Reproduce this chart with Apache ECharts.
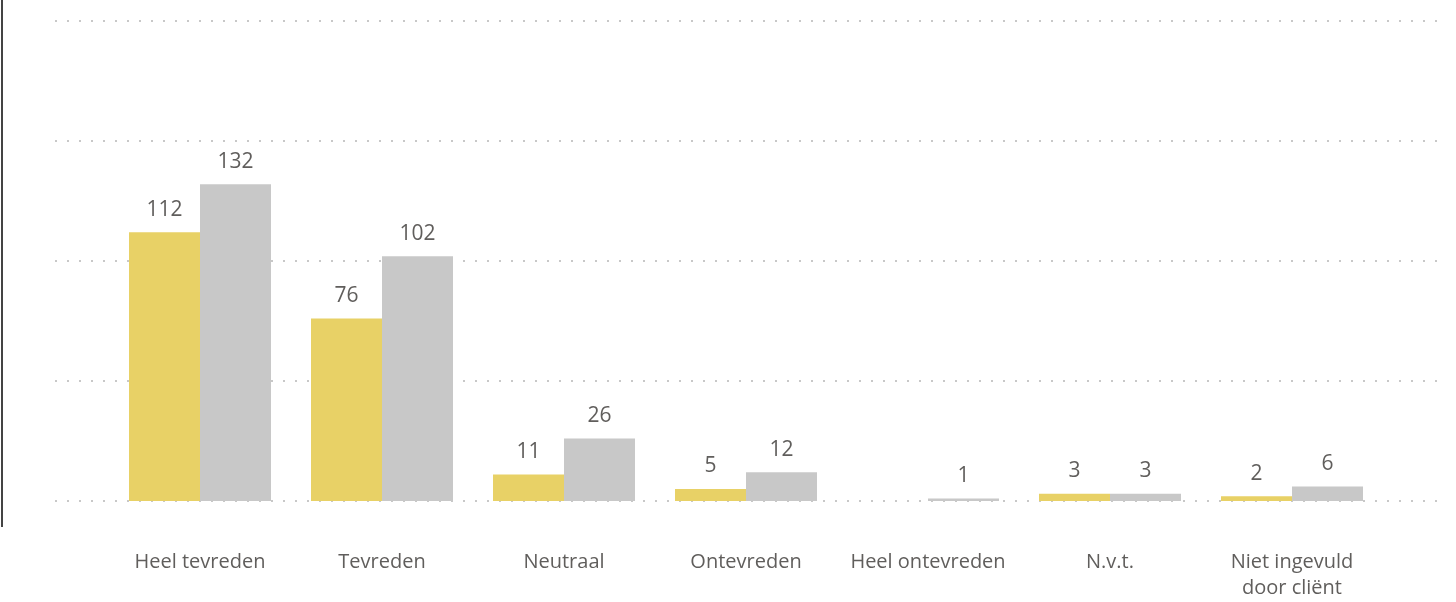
<!DOCTYPE html>
<html>
<head>
<meta charset="utf-8">
<script src="https://cdn.jsdelivr.net/npm/echarts@6/dist/echarts.min.js"></script>
<style>
html, body { margin: 0; padding: 0; background: #fff; }
#main { width: 1456px; height: 602px; }
</style>
</head>
<body>
<div id="main"></div>
<script>
// categorieen en aantallen
var categories = ['Heel tevreden', 'Tevreden', 'Neutraal', 'Ontevreden', 'Heel ontevreden', 'N.v.t.', 'Niet ingevuld door cliënt'];
var serieGeel = [112, 76, 11, 5, 0, 3, 2];
var serieGrijs = [132, 102, 26, 12, 1, 3, 6];
var yTicks = [0, 50, 100, 150, 200];

var myChart = echarts.init(document.getElementById('main'));

var labelStyle = {
    show: true,
    position: 'top',
    distance: 12,
    color: '#605e5c',
    fontSize: 21,
    fontFamily: 'Open Sans',
    formatter: function (p) { return p.value === 0 ? '' : p.value; }
};

var option = {
    animation: false,
    grid: [
        // grid met de staven
        { left: 109, right: 73, top: 21, bottom: 101 },
        // bredere grid alleen voor de stippellijnen
        { left: 55, right: 18, top: 21, bottom: 101 }
    ],
    xAxis: [
        {
            type: 'category',
            gridIndex: 0,
            data: categories,
            axisLine: { show: false },
            axisTick: { show: false },
            axisLabel: {
                color: '#605e5c',
                fontSize: 20,
                fontFamily: 'Open Sans',
                lineHeight: 26,
                margin: 48,
                interval: 0,
                formatter: function (v) { return v.replace(' door', '\ndoor'); }
            }
        },
        {
            type: 'value',
            gridIndex: 1,
            min: 0,
            max: 1,
            show: false
        }
    ],
    yAxis: [
        {
            type: 'value',
            gridIndex: 0,
            min: yTicks[0],
            max: yTicks[yTicks.length - 1],
            interval: 50,
            show: false
        },
        {
            type: 'value',
            gridIndex: 1,
            min: yTicks[0],
            max: yTicks[yTicks.length - 1],
            interval: 50,
            axisLine: { show: false },
            axisTick: { show: false },
            axisLabel: { show: false },
            splitLine: {
                show: true,
                lineStyle: { color: '#c8c8c8', width: 2, type: [2, 10] }
            }
        }
    ],
    series: [
        {
            name: 'geel',
            type: 'bar',
            xAxisIndex: 0,
            yAxisIndex: 0,
            barWidth: 71,
            barGap: '0%',
            data: serieGeel,
            itemStyle: { color: '#e8d166' },
            label: labelStyle,
            z: 3
        },
        {
            name: 'grijs',
            type: 'bar',
            xAxisIndex: 0,
            yAxisIndex: 0,
            barWidth: 71,
            barGap: '0%',
            data: serieGrijs,
            itemStyle: { color: '#c8c8c8' },
            label: labelStyle,
            z: 3
        }
    ],
    graphic: [
        {
            type: 'line',
            shape: { x1: 2, y1: 0, x2: 2, y2: 527 },
            style: { stroke: '#444', lineWidth: 2 }
        }
    ]
};

myChart.setOption(option);
</script>
</body>
</html>
